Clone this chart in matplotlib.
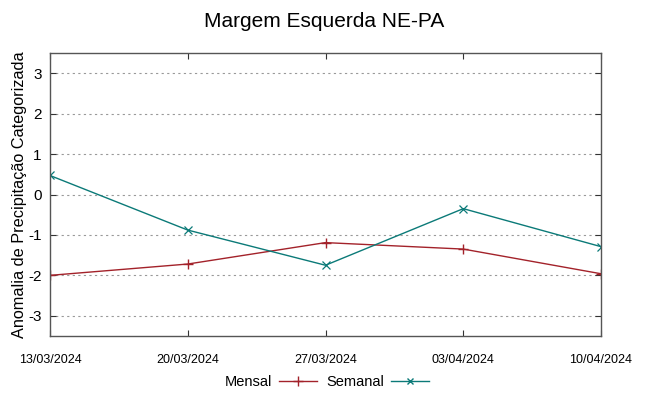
import matplotlib
matplotlib.use('Agg')
import matplotlib.pyplot as plt
from matplotlib.lines import Line2D

# Data
datas = ['13/03/2024', '20/03/2024', '27/03/2024', '03/04/2024', '10/04/2024']
mensal = [-2.0, -1.72, -1.19, -1.35, -1.96]
semanal = [0.47, -0.88, -1.75, -0.35, -1.29]
yticks = [-3, -2, -1, 0, 1, 2, 3]

cor_mensal = '#a3222a'
cor_semanal = '#0b7a78'

plt.rcParams['font.family'] = ['Liberation Sans', 'DejaVu Sans']

fig = plt.figure(figsize=(6.49, 3.96), dpi=100)
ax = fig.add_axes([50 / 649, 1 - 336 / 396, 551 / 649, 283 / 396])

x = list(range(len(datas)))
ax.plot(x, mensal, color=cor_mensal, lw=1.0, marker='+', ms=7, mew=1.0)
ax.plot(x, semanal, color=cor_semanal, lw=1.0, marker='x', ms=6, mew=0.9)

ax.set_xlim(0, len(datas) - 1)
ax.set_ylim(-3.5, 3.5)
ax.set_xticks(x)
ax.set_xticklabels(datas, fontsize=9)
ax.set_yticks(yticks)
ax.set_yticklabels([str(v) for v in yticks], fontsize=11)
ax.tick_params(direction='in', top=True, right=True, length=4, width=0.8, color='#333333')
ax.tick_params(axis='x', pad=13)
ax.tick_params(axis='y', pad=6)
ax.grid(axis='y', linestyle=(0, (2, 3)), color='#999999', lw=0.8)
for s in ax.spines.values():
    s.set_color('#555555')
    s.set_linewidth(1.0)

ax.set_ylabel('Anomalia de Precipitação Categorizada', fontsize=11.7)
ax.yaxis.set_label_coords(-23 / 551, 0.5)
fig.suptitle('Margem Esquerda NE-PA', fontsize=15, y=0.97)

handles = [Line2D([], [], color=cor_mensal, marker='+', ms=7, lw=1.0),
           Line2D([], [], color=cor_semanal, marker='x', ms=5, lw=1.0)]
fig.legend(handles, ['Mensal', 'Semanal'], loc='center', bbox_to_anchor=(327 / 649, 1 - 382 / 396),
           ncol=2, frameon=False, fontsize=10.5, markerfirst=False, handlelength=2.6,
           columnspacing=0.6, handletextpad=0.5)

fig.savefig('out.png', dpi=100)
